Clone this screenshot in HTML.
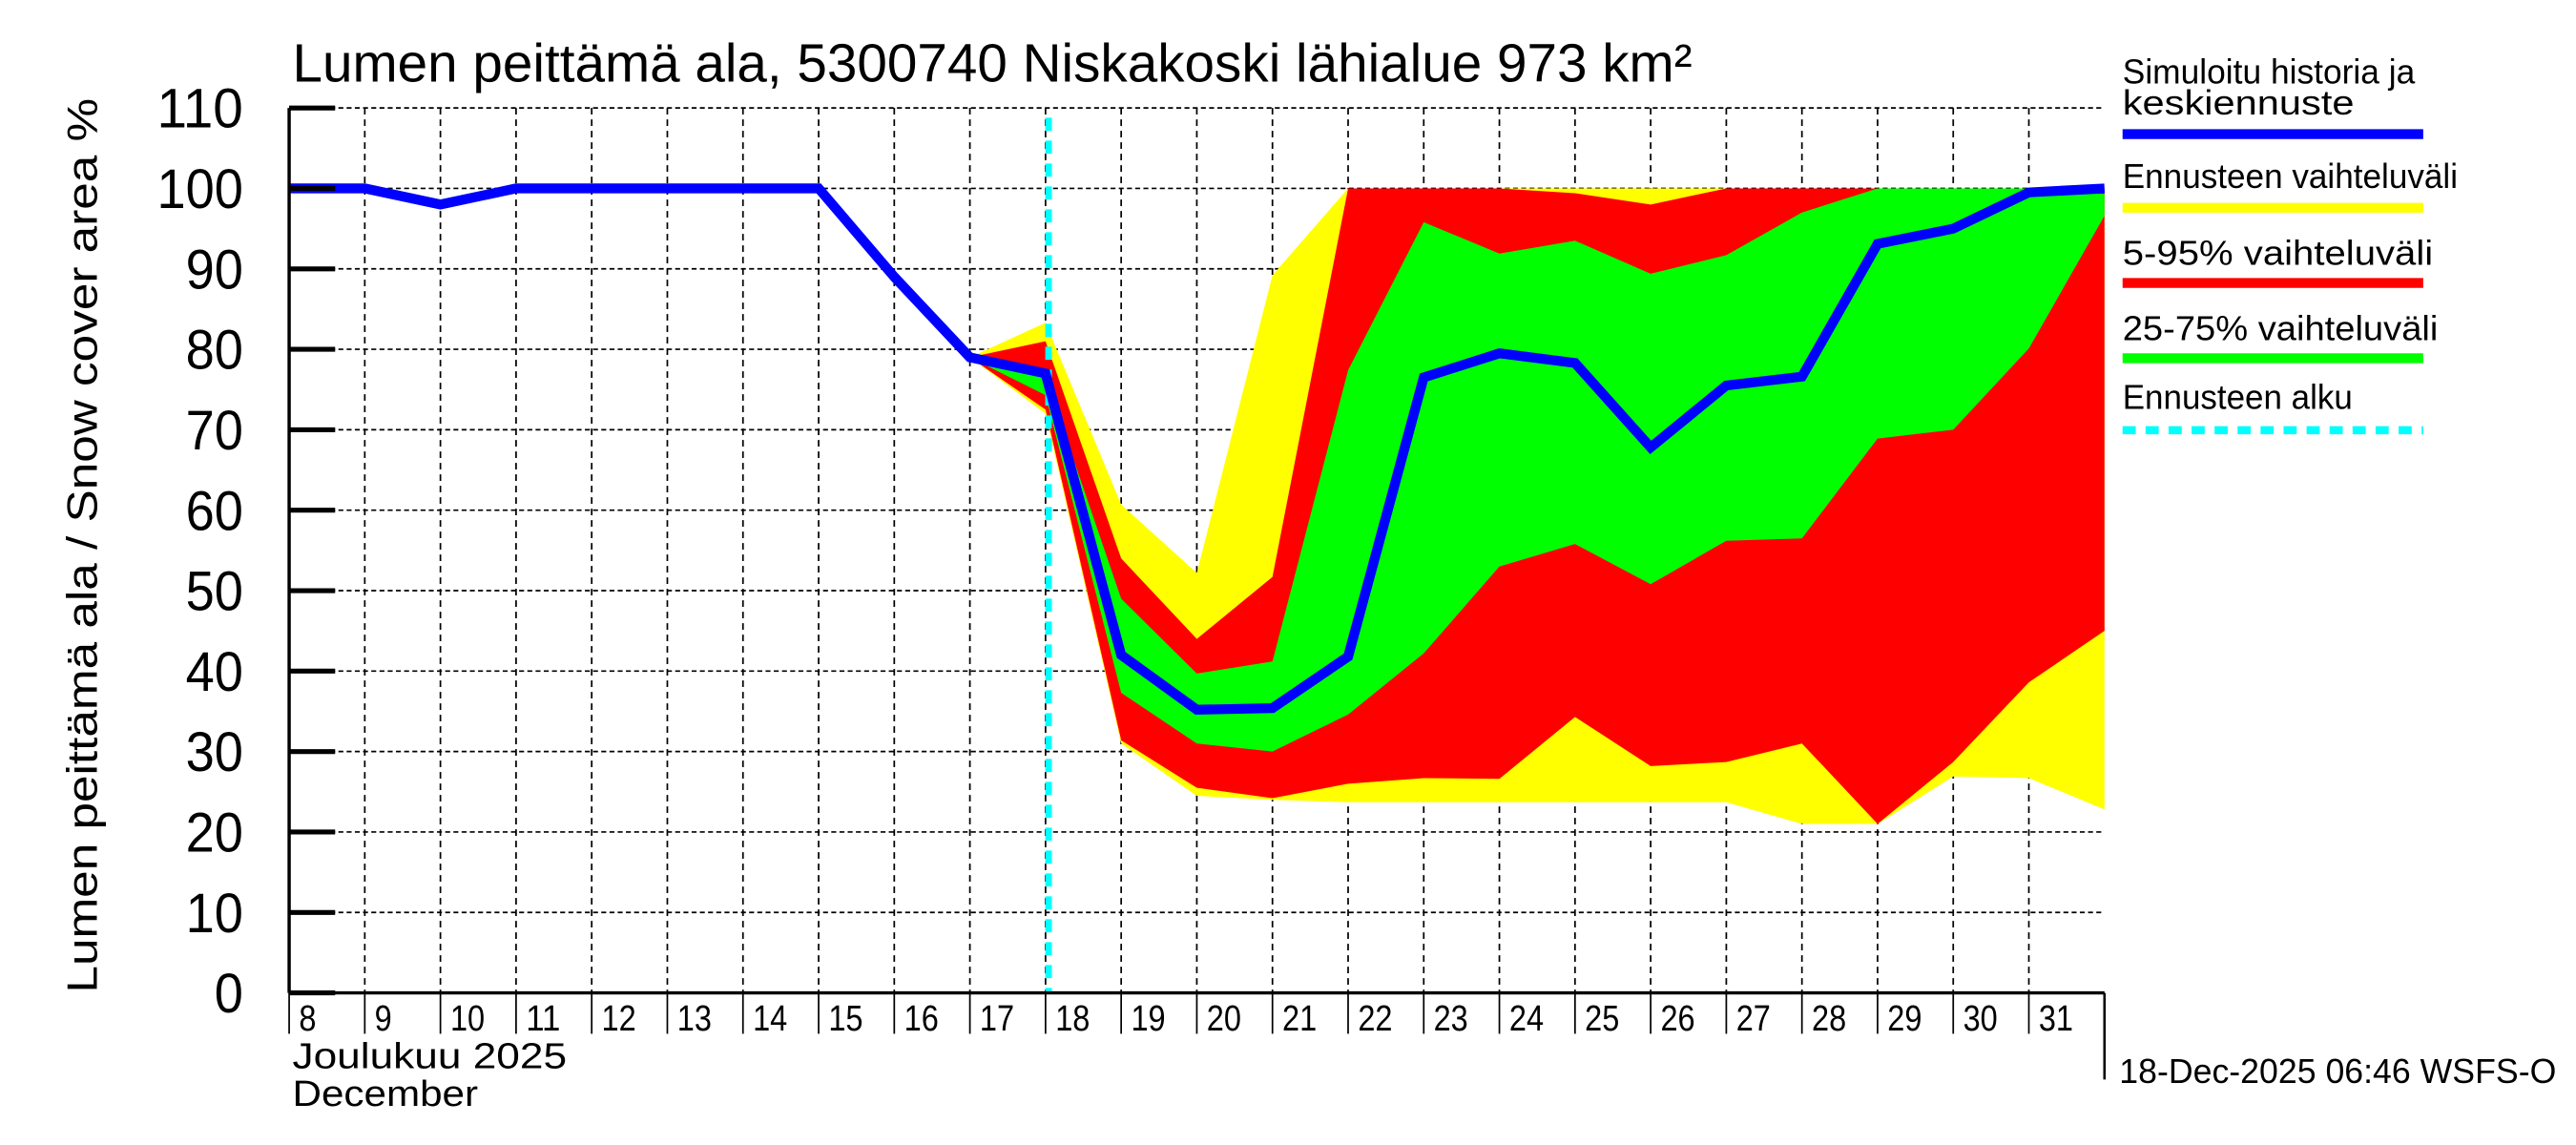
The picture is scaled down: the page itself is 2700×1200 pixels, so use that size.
<!DOCTYPE html>
<html><head><meta charset="utf-8"><style>
html,body{margin:0;padding:0;background:#fff;}
svg{display:block;}
text{font-family:"Liberation Sans Narrow","Liberation Sans",sans-serif;fill:#000;}
</style></head><body>
<svg id="chart" width="2700" height="1200" viewBox="0 0 1568 700" preserveAspectRatio="none" xmlns="http://www.w3.org/2000/svg">
<text x="178" y="50" font-size="33" textLength="852" lengthAdjust="spacingAndGlyphs">Lumen peittämä ala, 5300740 Niskakoski lähialue 973 km²</text>
<text transform="translate(59,607) rotate(-90)" font-size="26" textLength="547" lengthAdjust="spacingAndGlyphs" style="font-family:'Liberation Sans',sans-serif">Lumen peittämä ala / Snow cover area    %</text>
<g id="grid"></g>
<g id="bands"></g>
<g id="axes"></g>
<g>
<text x="1292" y="51" font-size="21" textLength="178" lengthAdjust="spacingAndGlyphs">Simuloitu historia ja</text>
<text x="1292" y="70" font-size="21" textLength="141" lengthAdjust="spacingAndGlyphs">keskiennuste</text>
<line x1="1292" x2="1475" y1="82" y2="82" stroke="#0000ff" stroke-width="6"/>
<text x="1292" y="115" font-size="21" textLength="204" lengthAdjust="spacingAndGlyphs">Ennusteen vaihteluväli</text>
<line x1="1292" x2="1475" y1="127" y2="127" stroke="#ffff00" stroke-width="6"/>
<text x="1292" y="162" font-size="21" textLength="189" lengthAdjust="spacingAndGlyphs">5-95% vaihteluväli</text>
<line x1="1292" x2="1475" y1="173" y2="173" stroke="#ff0000" stroke-width="6"/>
<text x="1292" y="208" font-size="21" textLength="192" lengthAdjust="spacingAndGlyphs">25-75% vaihteluväli</text>
<line x1="1292" x2="1475" y1="219" y2="219" stroke="#00ff00" stroke-width="6"/>
<text x="1292" y="250" font-size="21" textLength="140" lengthAdjust="spacingAndGlyphs">Ennusteen alku</text>
<line x1="1292" x2="1475" y1="263" y2="263" stroke="#00ffff" stroke-width="5" stroke-dasharray="8,6"/>
</g>
<text x="178" y="653" font-size="22" textLength="167" lengthAdjust="spacingAndGlyphs">Joulukuu  2025</text>
<text x="178" y="676" font-size="22" textLength="113" lengthAdjust="spacingAndGlyphs">December</text>
<text x="1290" y="662" font-size="21" textLength="266" lengthAdjust="spacingAndGlyphs">18-Dec-2025 06:46 WSFS-O</text>
</svg>
<script>
const histDays=[8,9,10,11,12,13,14,15,16,17];
const histValues=[100,100,98,100,100,100,100,100,89,79];
const fcDays=[17,18,19,20,21,22,23,24,25,26,27,28,29,30,31,32];
const medianFc=[79,77,42,35.2,35.4,41.8,76.5,79.5,78.3,67.8,75.5,76.6,93.1,95,99.5,100];
const maxFc=[79,83.3,60.7,52.2,89.2,100,100,100,100,100,100,100,100,100,100,100];
const minFc=[79,72,31,24.5,24,23.7,23.7,23.7,23.7,23.7,23.7,21,21,26.9,26.7,22.8];
const p95=[79,81,54,44,51.7,100,100,100,99.4,98,100,100,100,100,100,100];
const p5=[79,72.5,31.4,25.5,24.2,26,26.7,26.6,34.3,28.2,28.7,31,21,28.7,38.6,45];
const p75=[79,76.5,49,39.7,41.2,77.4,95.8,91.9,93.5,89.4,91.7,97,100,100,100,99.3];
const p25=[79,74.3,37.3,31,30,34.6,42.2,53,55.8,50.8,56.2,56.5,68.9,70,80.1,96.6];
const yTicks=[0,10,20,30,40,50,60,70,80,90,100,110];
const dayLabels=[8,9,10,11,12,13,14,15,16,17,18,19,20,21,22,23,24,25,26,27,28,29,30,31];
const forecastStart=18.04;

const NS='http://www.w3.org/2000/svg';
const X0=176,X1=1281,Y0=607,Y1=66;
const xs=d=>X0+(d-8)*(X1-X0)/24;
const ys=v=>Y0-v*(Y0-Y1)/110;
function mk(tag,attrs,parent){const e=document.createElementNS(NS,tag);for(const k in attrs)e.setAttribute(k,attrs[k]);parent.appendChild(e);return e;}
const grid=document.getElementById('grid'),bands=document.getElementById('bands'),axes=document.getElementById('axes');

yTicks.forEach(v=>{
  if(v>0){const l=mk('line',{x1:X0,x2:X1,y1:ys(v),y2:ys(v),stroke:'#000','stroke-width':1,'stroke-dasharray':'3,2'},grid);
  
  }
  const t=mk('line',{x1:X0,x2:X0+28,y1:ys(v),y2:ys(v),stroke:'#000','stroke-width':3},axes);
  
  
  const s=String(v);
  const tx=mk('text',{x:148,y:ys(v)+12,'font-size':34,'text-anchor':'end',textLength:s.length*17.5,lengthAdjust:'spacingAndGlyphs'},axes);
  tx.textContent=s;
  
  
});
dayLabels.forEach(d=>{
  if(d>8){const g=mk('line',{x1:xs(d),x2:xs(d),y1:Y1,y2:Y0,stroke:'#000','stroke-width':1,'stroke-dasharray':'4,3'},grid);
  
  }
  const t=mk('line',{x1:xs(d),x2:xs(d),y1:Y0,y2:Y0+25,stroke:'#000','stroke-width':1},axes);
  
  
  const s=String(d);
  const tx=mk('text',{x:xs(d)+6,y:630,'font-size':22,textLength:s.length*10.5,lengthAdjust:'spacingAndGlyphs'},axes);
  tx.textContent=s;
  
  
});
function band(up,lo,color,name){
  const pts=fcDays.map((d,i)=>xs(d)+','+ys(up[i])).concat(fcDays.slice().reverse().map((d,j)=>{const i=fcDays.length-1-j;return xs(d)+','+ys(lo[i]);}));
  const p=mk('polygon',{points:pts.join(' '),fill:color},bands);
  
  
}
band(maxFc,minFc,'#ffff00','band-min-max');
band(p95,p5,'#ff0000','band-5-95');
band(p75,p25,'#00ff00','band-25-75');
const fl=mk('line',{x1:xs(forecastStart),x2:xs(forecastStart),y1:72,y2:Y0,stroke:'#00ffff','stroke-width':4,'stroke-dasharray':'8,6'},bands);


const allD=histDays.concat(fcDays.slice(1)),allV=histValues.concat(medianFc.slice(1));
const ml=mk('polyline',{points:allD.map((d,i)=>xs(d)+','+ys(allV[i])).join(' '),fill:'none',stroke:'#0000ff','stroke-width':6,'stroke-linejoin':'miter'},bands);


const la=mk('line',{x1:X0,x2:X0,y1:Y1,y2:Y0,stroke:'#000','stroke-width':2},axes);


const ba=mk('line',{x1:X0,x2:X1,y1:Y0,y2:Y0,stroke:'#000','stroke-width':2},axes);


const ra=mk('line',{x1:X1,x2:X1,y1:Y0,y2:660,stroke:'#000','stroke-width':1.5},axes);


</script>
</body></html>
